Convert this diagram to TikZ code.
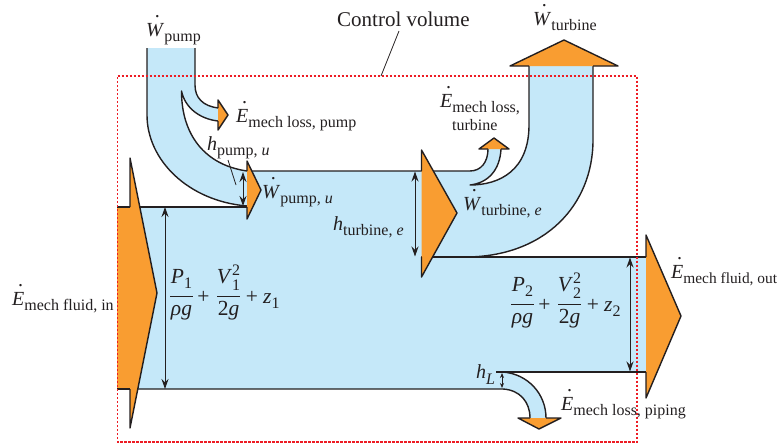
\documentclass[tikz,border=0pt]{standalone}
\usepackage[no-math]{fontspec}
\setmainfont{Liberation Serif}
\usetikzlibrary{arrows.meta}
\definecolor{ink}{HTML}{231F20}
\definecolor{stream}{HTML}{C5E8F9}
\definecolor{head}{HTML}{F99D31}
\definecolor{cvred}{HTML}{ED1C24}
\newcommand{\sbs}[1]{\raisebox{-0.25em}{\fontsize{16}{16}\selectfont #1}}
\newcommand{\dotl}[1]{\leavevmode\setbox0\hbox{\textit{#1}}\rlap{\box0}\setbox0\hbox{\textit{#1}}\hbox to \wd0{\hss\smash{\raisebox{0.95em}{\kern0.22em.}}\hss}}
\newcommand{\subsup}[2]{\rlap{\raisebox{-0.37em}{\fontsize{16}{16}\selectfont #1}}\raisebox{0.37em}{\fontsize{16}{16}\selectfont #2}}
\tikzset{
  lbl/.style={anchor=base west,inner sep=0pt,text=ink,font=\fontsize{20}{22}\selectfont},
  mid/.style={anchor=base,inner sep=0pt,text=ink,font=\fontsize{21.5}{23}\selectfont},
  pipe/.style={draw=ink,line width=1.4pt,line join=round},
  headfill/.style={fill=head,draw=none},
  dim/.style={draw=ink,line width=1pt,{Stealth[length=10pt,width=7pt]}-{Stealth[length=10pt,width=7pt]}},
  thin leader/.style={draw=ink,line width=0.8pt},
  fracbar/.style={draw=ink,line width=0.8pt},
  cv/.style={draw=cvred,line width=1.2pt,dash pattern=on 2.5pt off 1.5pt}
}
\newcommand{\energyeq}[1]{%
  \node[mid] (P) at (11.5,-13) {\textit{P}\sbs{#1}};
  \node[mid] (rg) at (11.5,19) {\textit{ρg}};
  \coordinate (b1l) at (0,0); \coordinate (b1r) at (23,0);
  \draw[fracbar] (b1l) -- (b1r);
  \node[mid] (p1) at (33.5,7) {+};
  \node[mid] (V) at (58.5,-13) {\textit{V}\subsup{#1}{2}};
  \node[mid] (tg) at (58.5,19) {2\textit{g}};
  \coordinate (b2l) at (47,0); \coordinate (b2r) at (70,0);
  \draw[fracbar] (b2l) -- (b2r);
  \node[mid] (p2) at (82,7) {+};
  \node[lbl,font=\fontsize{21.5}{23}\selectfont] (z) at (93,7) {\textit{z}\sbs{#1}};
}
\begin{document}
\begin{tikzpicture}[x=1pt,y=-1pt]
\useasboundingbox (0,0) rectangle (779,445);
% blue streams
\fill[stream] (147,48) -- (147,115) .. controls (147,160) and (188,201) .. (247,206) -- (247,171)
  .. controls (205,165) and (181.5,135) .. (181.5,91)
  .. controls (185,108) and (200,119) .. (218,121) -- (218,108)
  .. controls (203,106) and (195,98) .. (195,85) -- (195,48) -- cycle;
\fill[stream] (130,207) -- (247,207) -- (247,171) -- (470,171)
  .. controls (481,171) and (488,162) .. (488,149) -- (501,149)
  .. controls (500,170) and (488,183) .. (470,185)
  .. controls (500,185) and (529,170) .. (529,125) -- (529,66) -- (593,66) -- (593,140)
  .. controls (593,205) and (545,257) .. (465,257) -- (646,257) -- (646,372) -- (503,372)
  .. controls (528,374) and (546,394) .. (546,418) -- (530,418)
  .. controls (530,402) and (520,390) .. (503,389) -- (130,389) -- cycle;
% pipe walls
\draw[pipe] (147,48) -- (147,115) .. controls (147,160) and (188,201) .. (247,206);
\draw[pipe] (247,171) .. controls (205,165) and (181.5,135) .. (181.5,91)
  .. controls (185,108) and (200,119) .. (218,121);
\draw[pipe] (195,48) -- (195,85) .. controls (195,98) and (203,106) .. (218,108);
\draw[pipe] (130,207) -- (247,207);
\draw[pipe] (247,171) -- (470,171) .. controls (481,171) and (488,162) .. (488,149);
\draw[pipe] (501,149) .. controls (500,170) and (488,183) .. (470,185)
  .. controls (500,185) and (529,170) .. (529,125) -- (529,66);
\draw[pipe] (593,66) -- (593,140) .. controls (593,205) and (545,257) .. (465,257);
\draw[pipe] (421,257) -- (646,257);
\draw[pipe] (496,372) -- (646,372);
\draw[pipe] (503,372) .. controls (528,374) and (546,394) .. (546,418);
\draw[pipe] (130,389) -- (503,389) .. controls (520,390) and (530,402) .. (530,418);
% heads
\fill[headfill] (117,207) -- (130,207) -- (130,158) -- (157,293) -- (130,428) -- (130,389) -- (117,389) -- cycle;
\draw[pipe] (130,207) -- (130,158) -- (157,293) -- (130,428) -- (130,389);
\draw[pipe] (117,207) -- (130,207);
\draw[pipe] (117,389) -- (130,389);
\fill[headfill] (218,100) -- (228,115) -- (218,130) -- cycle;
\draw[pipe] (218,108) -- (218,100) -- (228,115) -- (218,130) -- (218,121);
\fill[headfill] (247,161) -- (261,190) -- (247,219) -- cycle;
\draw[pipe] (247,171) -- (247,161) -- (261,190) -- (247,219) -- (247,207);
\fill[headfill] (421.5,150) -- (457,213) -- (421.5,277) -- cycle;
\draw[pipe] (421.5,171) -- (421.5,150) -- (457,213) -- (421.5,277) -- (421.5,257);
\fill[headfill] (479,149) -- (494,138) -- (509,149) -- cycle;
\draw[pipe] (488,149) -- (479,149) -- (494,138) -- (509,149) -- (501,149);
\fill[headfill] (510,66) -- (564,40) -- (618,66) -- cycle;
\draw[pipe] (529,66) -- (510,66) -- (564,40) -- (618,66) -- (593,66);
\fill[headfill] (646,235) -- (681,316) -- (646,398) -- cycle;
\draw[pipe] (646,257) -- (646,235) -- (681,316) -- (646,398) -- (646,372);
\fill[headfill] (518,418) -- (561,418) -- (539,429) -- cycle;
\draw[pipe] (530,418) -- (518,418) -- (539,429) -- (561,418) -- (546,418);
% control volume
\coordinate (cva) at (117.5,76); \coordinate (cvb) at (637,76);
\coordinate (cvc) at (637,442); \coordinate (cvd) at (117.5,442);
\draw[cv] (cva) -- (cvb) -- (cvc) -- (cvd) -- cycle;
% labels
\node[lbl,font=\fontsize{21}{23}\selectfont] (cvlabel) at (337,26) {Control volume};
\coordinate (cvtail) at (399,31);
\coordinate (cvtip) at (381,76);
\draw[thin leader] (cvtail) -- (cvtip);
\node[lbl] (wpump) at (146,36) {\dotl{W}\sbs{pump}};
\node[lbl] (eloss) at (236,122) {\dotl{E}\sbs{mech loss, pump}};
\node[lbl] (hpump) at (207,150) {\textit{h}\sbs{pump, \textit{u}}};
\node[lbl] (wpumpu) at (262,198) {\dotl{W}\sbs{pump, \textit{u}}};
\node[lbl] (hturb) at (333,230) {\textit{h}\sbs{turbine, \textit{e}}};
\node[lbl] (efin) at (12,305) {\dotl{E}\sbs{mech fluid, in}};
\node[lbl] (efout) at (671,278) {\dotl{E}\raisebox{-0.25em}{\fontsize{15.4}{16}\selectfont mech fluid, out}};
\node[lbl] (wturb) at (533,25) {\dotl{W}\sbs{turbine}};
\node[lbl] (elt) at (440,107) {\dotl{E}\sbs{mech loss,}};
\node[anchor=base west,inner sep=0pt,text=ink,font=\fontsize{16}{16}\selectfont] (eltb) at (452,130) {turbine};
\node[lbl] (wturbe) at (463,210) {\dotl{W}\sbs{turbine, \textit{e}}};
\node[lbl] (elp) at (561,410) {\dotl{E}\sbs{mech loss, piping}};
\node[lbl] (hl) at (476,378) {\textit{h}\raisebox{-0.3em}{\fontsize{16}{16}\selectfont\textit{L}}};
\begin{scope}[shift={(170,296)},name prefix=ea-]
  \energyeq{1}
\end{scope}
\begin{scope}[shift={(511,304)},name prefix=eb-]
  \energyeq{2}
\end{scope}
% dimension arrows
\coordinate (d1a) at (165,207); \coordinate (d1b) at (165,389);
\draw[dim] (d1a) -- (d1b);
\coordinate (d2a) at (243,172); \coordinate (d2b) at (243,206);
\draw[dim] (d2a) -- (d2b);
\coordinate (d3a) at (415,171.5); \coordinate (d3b) at (415,256.5);
\draw[dim] (d3a) -- (d3b);
\coordinate (d4a) at (630,257.5); \coordinate (d4b) at (630,371.5);
\draw[dim] (d4a) -- (d4b);
\coordinate (d5a) at (502,373); \coordinate (d5b) at (502,388);
\draw[draw=ink,line width=0.8pt,{Stealth[length=5pt,width=4pt]}-{Stealth[length=5pt,width=4pt]}] (d5a) -- (d5b);
\coordinate (ltail) at (228,160); \coordinate (ltip) at (236,185);
\draw[thin leader] (ltail) -- (ltip);
\end{tikzpicture}
\end{document}
